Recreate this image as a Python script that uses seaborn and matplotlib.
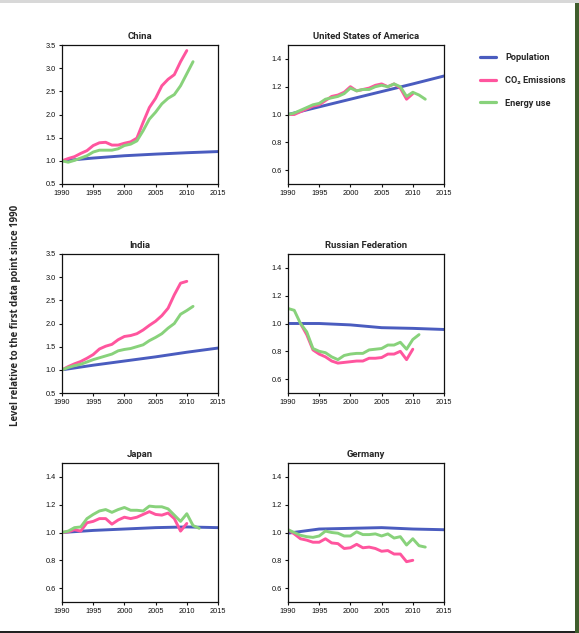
import numpy as np
import pandas as pd
import matplotlib
matplotlib.use("Agg")
import matplotlib.pyplot as plt
from matplotlib.lines import Line2D
from matplotlib.patches import Rectangle
from matplotlib import font_manager
import seaborn as sns

sns.set_style("ticks")

def pick_font(names):
    have = {f.name for f in font_manager.fontManager.ttflist}
    for n in names:
        if n in have:
            return n
    return "DejaVu Sans"

narrow = pick_font(["Liberation Sans Narrow", "Roboto", "Liberation Sans"])
plt.rcParams["font.family"] = ["Liberation Sans", "DejaVu Sans"]

# data
countries = ["China", "United States of America", "India",
             "Russian Federation", "Japan", "Germany"]
series_names = ["Population", "CO\u2082 Emissions", "Energy use"]

pop_years = [1990, 1995, 2000, 2005, 2010, 2015]
co2_years = list(range(1990, 2011))
energy_years = list(range(1990, 2013))

pop_china = [1.0, 1.06, 1.11, 1.145, 1.175, 1.2]
co2_china = [1.0, 1.05, 1.09, 1.16, 1.22, 1.33, 1.39, 1.40, 1.34, 1.34, 1.38,
             1.41, 1.49, 1.83, 2.15, 2.35, 2.62, 2.76, 2.86, 3.14, 3.38]
energy_china = [1.0, 0.97, 1.01, 1.06, 1.11, 1.19, 1.23, 1.23, 1.23, 1.26, 1.33,
                1.36, 1.43, 1.65, 1.90, 2.05, 2.23, 2.35, 2.43, 2.62, 2.88, 3.14]

pop_usa = [1.0, 1.055, 1.11, 1.165, 1.22, 1.277]
co2_usa = [1.0, 1.0, 1.02, 1.04, 1.06, 1.07, 1.10, 1.13, 1.14, 1.16, 1.20,
           1.17, 1.18, 1.19, 1.21, 1.22, 1.20, 1.22, 1.19, 1.11, 1.15]
energy_usa = [1.0, 1.01, 1.03, 1.05, 1.07, 1.08, 1.11, 1.12, 1.13, 1.15, 1.19,
              1.17, 1.18, 1.18, 1.20, 1.21, 1.20, 1.22, 1.20, 1.13, 1.16, 1.14, 1.11]

pop_india = [1.0, 1.1, 1.19, 1.28, 1.38, 1.47]
co2_india = [1.0, 1.07, 1.13, 1.18, 1.25, 1.33, 1.45, 1.51, 1.55, 1.65, 1.72,
             1.74, 1.78, 1.86, 1.96, 2.05, 2.17, 2.33, 2.62, 2.87, 2.91]
energy_india = [1.0, 1.05, 1.09, 1.12, 1.17, 1.22, 1.26, 1.30, 1.34, 1.41, 1.44,
                1.46, 1.50, 1.54, 1.63, 1.70, 1.78, 1.90, 2.00, 2.20, 2.28, 2.37]

pop_russia = [1.0, 1.0, 0.99, 0.97, 0.965, 0.957]
co2_russia = [np.nan, np.nan, 1.0, 0.92, 0.81, 0.78, 0.76, 0.73, 0.715, 0.72, 0.725,
              0.73, 0.73, 0.75, 0.75, 0.755, 0.78, 0.78, 0.80, 0.74, 0.815]
energy_russia = [1.108, 1.095, 1.0, 0.94, 0.82, 0.80, 0.79, 0.76, 0.74, 0.77, 0.78,
                 0.785, 0.785, 0.81, 0.815, 0.82, 0.845, 0.845, 0.865, 0.815, 0.885, 0.92]

pop_japan = [1.0, 1.015, 1.025, 1.035, 1.04, 1.035]
co2_japan = [1.0, 1.005, 1.02, 1.01, 1.07, 1.08, 1.10, 1.10, 1.06, 1.09, 1.11,
             1.10, 1.11, 1.13, 1.15, 1.13, 1.125, 1.14, 1.10, 1.01, 1.065]
energy_japan = [1.0, 1.01, 1.035, 1.04, 1.10, 1.13, 1.155, 1.165, 1.145, 1.165, 1.18,
                1.16, 1.16, 1.155, 1.19, 1.185, 1.185, 1.17, 1.125, 1.08, 1.135, 1.05, 1.03]

pop_germany = [0.995, 1.025, 1.03, 1.035, 1.025, 1.02]
co2_germany = [1.02, 0.99, 0.955, 0.945, 0.93, 0.93, 0.955, 0.925, 0.92, 0.885, 0.89,
               0.915, 0.89, 0.895, 0.885, 0.865, 0.87, 0.845, 0.845, 0.79, 0.80]
energy_germany = [1.02, 1.0, 0.98, 0.97, 0.965, 0.975, 1.01, 1.0, 0.995, 0.975, 0.975,
                  1.005, 0.985, 0.985, 0.99, 0.975, 0.99, 0.96, 0.97, 0.91, 0.955, 0.905, 0.895]

pops = [pop_china, pop_usa, pop_india, pop_russia, pop_japan, pop_germany]
co2s = [co2_china, co2_usa, co2_india, co2_russia, co2_japan, co2_germany]
energies = [energy_china, energy_usa, energy_india, energy_russia, energy_japan, energy_germany]

colors = {"Population": "#4a5cbf", "CO\u2082 Emissions": "#ff559e", "Energy use": "#88d27b"}

rows = []
for c, p, co, en in zip(countries, pops, co2s, energies):
    for yr, v in zip(pop_years, p):
        rows.append((c, "Population", yr, v))
    for yr, v in zip(co2_years, co):
        rows.append((c, "CO\u2082 Emissions", yr, v))
    for yr, v in zip(energy_years, en):
        rows.append((c, "Energy use", yr, v))
df = pd.DataFrame(rows, columns=["country", "series", "year", "value"]).dropna()

W, H = 579, 633
fig = plt.figure(figsize=(W / 100, H / 100), dpi=100)

lefts = [62, 288]
tops = [45, 254, 463]
aw, ah = 156, 139

for i, c in enumerate(countries):
    r, k = divmod(i, 2)
    ax = fig.add_axes([lefts[k] / W, 1 - (tops[r] + ah) / H, aw / W, ah / H])
    sub = df[df.country == c]
    sns.lineplot(data=sub, x="year", y="value", hue="series", hue_order=series_names,
                 palette=colors, estimator=None, linewidth=2.1, legend=False, ax=ax)
    ax.set_xlim(1990, 2015)
    ax.set_xticks([1990, 1995, 2000, 2005, 2010, 2015])
    if c in ("China", "India"):
        ax.set_ylim(0.5, 3.5)
        ax.set_yticks([0.5, 1.0, 1.5, 2.0, 2.5, 3.0, 3.5])
    else:
        ax.set_ylim(0.5, 1.5)
        ax.set_yticks([0.6, 0.8, 1.0, 1.2, 1.4])
    ax.yaxis.set_major_formatter(matplotlib.ticker.FormatStrFormatter("%.1f"))
    ax.set_xlabel("")
    ax.set_ylabel("")
    ax.tick_params(labelsize=5.3, length=2.5, width=0.8, direction="out",
                   colors="#111111", pad=2)
    for s in ax.spines.values():
        s.set_visible(True)
        s.set_linewidth(0.9)
        s.set_color("#111111")
    ax.set_title(c, fontsize=6.8, fontweight="bold", family=[narrow, "DejaVu Sans"], pad=4)

handles = [Line2D([], [], color=colors[s], linewidth=2.3) for s in series_names]
fig.legend(handles, series_names, loc="upper left", bbox_to_anchor=(480 / W, 1 - 53 / H),
           frameon=False, handlelength=1.8, handletextpad=0.95, labelspacing=1.5,
           borderpad=0, borderaxespad=0,
           prop={"family": [narrow, "DejaVu Sans"], "weight": "bold", "size": 6.6})

fig.text(16 / W, 1 - 315 / H, "Level relative to the first data point since 1990",
         rotation=90, ha="center", va="center", fontsize=6.9, fontweight="bold",
         family=[pick_font(["Open Sans", "Liberation Sans"]), "DejaVu Sans"])

# screenshot frame bits
fig.patches.append(Rectangle((575 / W, 0), 4 / W, 1, transform=fig.transFigure,
                             facecolor="#3f5d2c", edgecolor="none"))
fig.patches.append(Rectangle((0, 0), 575 / W, 2 / H, transform=fig.transFigure,
                             facecolor="#222222", edgecolor="none"))
fig.patches.append(Rectangle((0, 1 - 3 / H), 1, 3 / H, transform=fig.transFigure,
                             facecolor="#d8d8d8", edgecolor="none"))

fig.savefig("out.png", dpi=100)
